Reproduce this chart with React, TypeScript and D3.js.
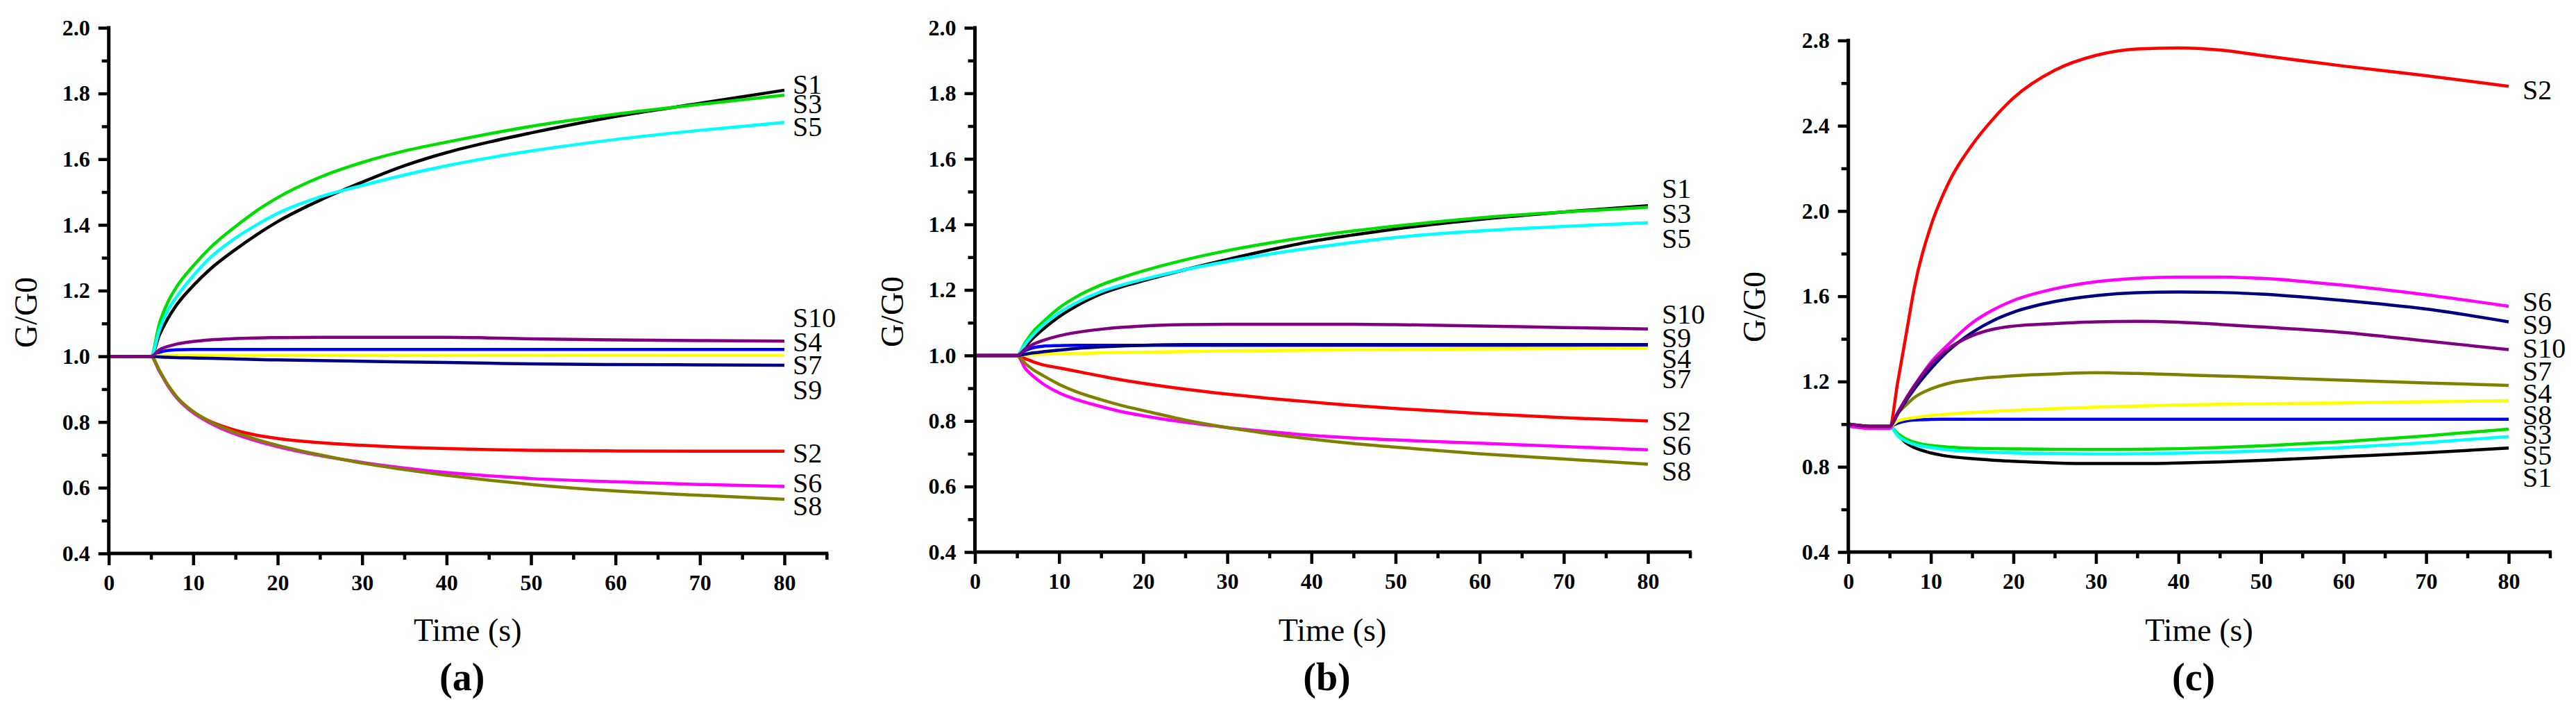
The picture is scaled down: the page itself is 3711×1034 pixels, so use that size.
import * as d3 from "d3";
import { useEffect, useRef } from "react";

const WIDTH = 3711;
const HEIGHT = 1034;
const FONT = "'Liberation Serif', 'Times New Roman', serif";

// sample times (s), shared by every series
const TIME = [0, 2.5, 5, 6, 7, 8, 10, 12, 15, 17.5, 20, 25, 30, 35, 40, 45, 50, 60, 70, 80];

const SERIES_COLORS = [
  "#000000", "#ff0000", "#00dd00", "#0000ff", "#00ffff",
  "#ff00ff", "#ffff00", "#808000", "#000080", "#800080",
];

// panel (a)
const A_S1 = [1.0, 1.0, 1.0, 1.065, 1.115, 1.155, 1.215, 1.265, 1.325, 1.37, 1.41, 1.475, 1.53, 1.58, 1.62, 1.652, 1.68, 1.73, 1.77, 1.81];
const A_S2 = [1.0, 1.0, 1.0, 0.955, 0.912, 0.877, 0.83, 0.802, 0.775, 0.76, 0.75, 0.737, 0.729, 0.723, 0.719, 0.716, 0.714, 0.712, 0.711, 0.711];
const A_S3 = [1.0, 1.0, 1.0, 1.1, 1.165, 1.21, 1.275, 1.33, 1.395, 1.443, 1.483, 1.545, 1.59, 1.625, 1.652, 1.677, 1.7, 1.737, 1.767, 1.795];
const A_S4 = [1.0, 1.0, 1.0, 1.012, 1.018, 1.02, 1.021, 1.021, 1.021, 1.021, 1.021, 1.021, 1.021, 1.021, 1.021, 1.021, 1.021, 1.021, 1.021, 1.021];
const A_S5 = [1.0, 1.0, 1.0, 1.08, 1.14, 1.18, 1.245, 1.3, 1.36, 1.4, 1.435, 1.485, 1.52, 1.552, 1.58, 1.604, 1.625, 1.66, 1.688, 1.712];
const A_S6 = [1.0, 1.0, 1.0, 0.955, 0.91, 0.875, 0.828, 0.797, 0.763, 0.742, 0.725, 0.698, 0.677, 0.66, 0.646, 0.636, 0.628, 0.618, 0.61, 0.604];
const A_S7 = [1.0, 1.0, 1.0, 1.002, 1.003, 1.003, 1.003, 1.003, 1.003, 1.003, 1.003, 1.003, 1.003, 1.003, 1.003, 1.003, 1.003, 1.003, 1.003, 1.003];
const A_S8 = [1.0, 1.0, 1.0, 0.957, 0.913, 0.878, 0.832, 0.801, 0.768, 0.747, 0.729, 0.7, 0.675, 0.655, 0.638, 0.623, 0.61, 0.59, 0.577, 0.565];
const A_S9 = [1.0, 1.0, 1.0, 0.998, 0.997, 0.996, 0.995, 0.994, 0.992, 0.99, 0.989, 0.987, 0.985, 0.983, 0.981, 0.979, 0.977, 0.975, 0.974, 0.973];
const A_S10 = [1.0, 1.0, 1.0, 1.02, 1.03, 1.037, 1.045, 1.05, 1.054, 1.056, 1.057, 1.058, 1.058, 1.058, 1.058, 1.056, 1.053, 1.05, 1.048, 1.046];
const A_LABELS = ["S1", "S3", "S5", "S10", "S4", "S7", "S9", "S2", "S6", "S8"];
const A_LABEL_Y = [1.829, 1.768, 1.7, 1.117, 1.043, 0.973, 0.899, 0.705, 0.614, 0.546];

// panel (b)
const B_S1 = [1.0, 1.0, 1.0, 1.028, 1.055, 1.078, 1.118, 1.15, 1.188, 1.21, 1.228, 1.262, 1.293, 1.322, 1.348, 1.368, 1.386, 1.415, 1.438, 1.457];
const B_S2 = [1.0, 1.0, 1.0, 0.99, 0.98, 0.972, 0.962, 0.952, 0.937, 0.925, 0.915, 0.897, 0.882, 0.869, 0.858, 0.847, 0.838, 0.823, 0.81, 0.8];
const B_S3 = [1.0, 1.0, 1.0, 1.04, 1.075, 1.1, 1.145, 1.178, 1.215, 1.238, 1.258, 1.292, 1.32, 1.343, 1.363, 1.38, 1.395, 1.42, 1.438, 1.452];
const B_S4 = [1.0, 1.0, 1.0, 1.015, 1.024, 1.028, 1.03, 1.031, 1.031, 1.031, 1.031, 1.031, 1.031, 1.031, 1.031, 1.031, 1.031, 1.031, 1.031, 1.031];
const B_S5 = [1.0, 1.0, 1.0, 1.035, 1.065, 1.09, 1.13, 1.16, 1.195, 1.215, 1.232, 1.262, 1.287, 1.309, 1.328, 1.345, 1.36, 1.38, 1.394, 1.405];
const B_S6 = [1.0, 1.0, 1.0, 0.96, 0.935, 0.915, 0.886, 0.866, 0.844, 0.828, 0.816, 0.796, 0.78, 0.767, 0.756, 0.748, 0.742, 0.732, 0.722, 0.712];
const B_S7 = [1.0, 1.0, 1.0, 1.002, 1.003, 1.004, 1.005, 1.006, 1.008, 1.009, 1.01, 1.012, 1.014, 1.015, 1.016, 1.017, 1.018, 1.02, 1.021, 1.022];
const B_S8 = [1.0, 1.0, 1.0, 0.975, 0.955, 0.94, 0.912, 0.89, 0.865, 0.847, 0.832, 0.803, 0.78, 0.761, 0.745, 0.731, 0.72, 0.7, 0.684, 0.668];
const B_S9 = [1.0, 1.0, 1.0, 1.004, 1.008, 1.011, 1.016, 1.021, 1.026, 1.029, 1.031, 1.033, 1.033, 1.033, 1.033, 1.033, 1.033, 1.033, 1.033, 1.033];
const B_S10 = [1.0, 1.0, 1.0, 1.02, 1.035, 1.045, 1.06, 1.07, 1.08, 1.086, 1.09, 1.094, 1.095, 1.095, 1.095, 1.095, 1.094, 1.09, 1.085, 1.081];
const B_LABELS = ["S1", "S3", "S5", "S10", "S9", "S4", "S7", "S2", "S6", "S8"];
const B_LABEL_Y = [1.51, 1.433, 1.356, 1.125, 1.055, 0.99, 0.93, 0.8, 0.725, 0.648];

// panel (c)
const C_S1 = [1.0, 0.99, 0.99, 0.95, 0.912, 0.89, 0.865, 0.85, 0.838, 0.831, 0.826, 0.818, 0.815, 0.815, 0.818, 0.823, 0.83, 0.848, 0.866, 0.888];
const C_S2 = [1.0, 0.99, 0.99, 1.2, 1.42, 1.64, 1.93, 2.12, 2.31, 2.43, 2.53, 2.66, 2.73, 2.76, 2.765, 2.755, 2.73, 2.68, 2.635, 2.585];
const C_S3 = [1.0, 0.99, 0.99, 0.955, 0.93, 0.915, 0.9, 0.893, 0.887, 0.885, 0.884, 0.882, 0.881, 0.882, 0.885, 0.89, 0.898, 0.918, 0.945, 0.977];
const C_S4 = [1.0, 0.99, 0.99, 1.005, 1.015, 1.02, 1.022, 1.023, 1.023, 1.023, 1.023, 1.023, 1.023, 1.023, 1.023, 1.023, 1.023, 1.023, 1.023, 1.023];
const C_S5 = [1.0, 0.99, 0.99, 0.945, 0.92, 0.905, 0.89, 0.88, 0.872, 0.868, 0.865, 0.862, 0.86, 0.861, 0.864, 0.868, 0.874, 0.89, 0.913, 0.942];
const C_S6 = [0.99, 0.98, 0.98, 1.05, 1.12, 1.18, 1.29, 1.37, 1.475, 1.535, 1.58, 1.635, 1.668, 1.684, 1.69, 1.69, 1.684, 1.652, 1.607, 1.553];
const C_S7 = [1.0, 0.99, 0.99, 1.015, 1.025, 1.03, 1.04, 1.047, 1.055, 1.06, 1.065, 1.073, 1.08, 1.085, 1.09, 1.093, 1.095, 1.1, 1.105, 1.11];
const C_S8 = [1.0, 0.99, 0.99, 1.05, 1.09, 1.125, 1.165, 1.19, 1.21, 1.22, 1.227, 1.236, 1.241, 1.238, 1.232, 1.226, 1.22, 1.206, 1.193, 1.182];
const C_S9 = [1.0, 0.99, 0.99, 1.05, 1.11, 1.165, 1.26, 1.34, 1.43, 1.485, 1.525, 1.575, 1.603, 1.617, 1.62, 1.618, 1.61, 1.58, 1.54, 1.48];
const C_S10 = [1.0, 0.99, 0.99, 1.055, 1.12, 1.18, 1.28, 1.35, 1.415, 1.445, 1.46, 1.472, 1.48, 1.482, 1.478, 1.468, 1.456, 1.43, 1.39, 1.35];
const C_LABELS = ["S2", "S6", "S9", "S10", "S7", "S4", "S8", "S3", "S5", "S1"];
const C_LABEL_Y = [2.57, 1.574, 1.467, 1.356, 1.249, 1.146, 1.045, 0.953, 0.856, 0.749];

const X_MAJOR = [0, 10, 20, 30, 40, 50, 60, 70, 80];
const X_MINOR = [5, 15, 25, 35, 45, 55, 65, 75, 85];
const Y_MAJOR_AB = [0.4, 0.6, 0.8, 1.0, 1.2, 1.4, 1.6, 1.8, 2.0];
const Y_MINOR_AB = [0.5, 0.7, 0.9, 1.1, 1.3, 1.5, 1.7, 1.9];
const Y_MAJOR_C = [0.4, 0.8, 1.2, 1.6, 2.0, 2.4, 2.8];
const Y_MINOR_C = [0.6, 1.0, 1.4, 1.8, 2.2, 2.6];

interface PanelConfig {
  tag: string;
  series: number[][];
  labels: string[];
  labelY: number[];
  yDomain: [number, number];
  yMajor: number[];
  yMinor: number[];
  left: number;
  x80: number;
  top: number;
  bottom: number;
  labelGap: number;
  titleOffset: number;
  titleY: number;
}

const PANELS: PanelConfig[] = [
  {
    tag: "(a)",
    series: [A_S1, A_S2, A_S3, A_S4, A_S5, A_S6, A_S7, A_S8, A_S9, A_S10],
    labels: A_LABELS,
    labelY: A_LABEL_Y,
    yDomain: [0.4, 2.0],
    yMajor: Y_MAJOR_AB,
    yMinor: Y_MINOR_AB,
    left: 156.7,
    x80: 1130,
    top: 40,
    bottom: 797,
    labelGap: 12,
    titleOffset: 104,
    titleY: 450,
  },
  {
    tag: "(b)",
    series: [B_S1, B_S2, B_S3, B_S4, B_S5, B_S6, B_S7, B_S8, B_S9, B_S10],
    labels: B_LABELS,
    labelY: B_LABEL_Y,
    yDomain: [0.4, 2.0],
    yMajor: Y_MAJOR_AB,
    yMinor: Y_MINOR_AB,
    left: 1404.5,
    x80: 2374,
    top: 40,
    bottom: 795,
    labelGap: 20,
    titleOffset: 104,
    titleY: 449,
  },
  {
    tag: "(c)",
    series: [C_S1, C_S2, C_S3, C_S4, C_S5, C_S6, C_S7, C_S8, C_S9, C_S10],
    labels: C_LABELS,
    labelY: C_LABEL_Y,
    yDomain: [0.4, 2.8],
    yMajor: Y_MAJOR_C,
    yMinor: Y_MINOR_C,
    left: 2662.7,
    x80: 3614,
    top: 58.3,
    bottom: 795,
    labelGap: 20,
    titleOffset: 120,
    titleY: 442,
  },
];

export default function App() {
  const svgRef = useRef<SVGSVGElement>(null);

  useEffect(() => {
    if (!svgRef.current) return;
    const svg = d3.select(svgRef.current);
    svg.selectAll("*").remove();

    svg.append("rect").attr("width", WIDTH).attr("height", HEIGHT).attr("fill", "#fff");

    for (const p of PANELS) {
      const perUnit = (p.x80 - p.left) / 80;
      const xScale = d3.scaleLinear().domain([0, 85]).range([p.left, p.left + perUnit * 85]);
      const yScale = d3.scaleLinear().domain(p.yDomain).range([p.bottom, p.top]);

      const g = svg.append("g");

      // Lines, drawn S1 .. S10 so later series sit on top
      const line = d3
        .line<number>()
        .x((_, i) => xScale(TIME[i]))
        .y((d) => yScale(d))
        .curve(d3.curveMonotoneX);

      p.series.forEach((values, i) => {
        g.append("path")
          .datum(values)
          .attr("d", line)
          .style("fill", "none")
          .style("stroke", SERIES_COLORS[i])
          .style("stroke-width", 4.5)
          .style("stroke-linejoin", "round");
      });

      // Series labels at the right end
      p.labels.forEach((name, i) => {
        g.append("text")
          .attr("x", xScale(80) + p.labelGap)
          .attr("y", yScale(p.labelY[i]))
          .attr("dy", "0.34em")
          .style("font-family", FONT)
          .style("font-size", "40px")
          .style("fill", "#000")
          .text(name);
      });

      // Minor ticks
      g.append("g")
        .attr("transform", `translate(${p.left},0)`)
        .call(d3.axisLeft(yScale).tickValues(p.yMinor).tickSize(10).tickSizeOuter(0).tickFormat(() => ""))
        .call((a) => a.select(".domain").remove());
      g.append("g")
        .attr("transform", `translate(0,${p.bottom})`)
        .call(d3.axisBottom(xScale).tickValues(X_MINOR).tickSize(9).tickSizeOuter(0).tickFormat(() => ""))
        .call((a) => a.select(".domain").remove());

      // Major ticks + labels
      const yAxis = g
        .append("g")
        .attr("transform", `translate(${p.left},0)`)
        .call(
          d3
            .axisLeft(yScale)
            .tickValues(p.yMajor)
            .tickSize(15)
            .tickSizeOuter(0)
            .tickPadding(12)
            .tickFormat(d3.format(".1f")),
        );
      yAxis.select(".domain").remove();

      const xAxis = g
        .append("g")
        .attr("transform", `translate(0,${p.bottom})`)
        .call(
          d3
            .axisBottom(xScale)
            .tickValues(X_MAJOR)
            .tickSize(17)
            .tickSizeOuter(0)
            .tickPadding(13)
            .tickFormat(d3.format("d")),
        );
      xAxis.select(".domain").remove();

      g.selectAll(".tick line").style("stroke", "#000").style("stroke-width", 4.5);
      g.selectAll(".tick text")
        .style("font-family", FONT)
        .style("font-size", "32px")
        .style("font-weight", "bold")
        .style("fill", "#000");

      // Axis lines (L shape)
      g.append("path")
        .attr("d", `M${p.left},${yScale(p.yDomain[1])}V${p.bottom}H${xScale(85)}`)
        .style("fill", "none")
        .style("stroke", "#000")
        .style("stroke-width", 5)
        .style("stroke-linecap", "square");

      // Axis titles
      const cx = (xScale(0) + xScale(85)) / 2;
      g.append("text")
        .attr("x", cx)
        .attr("y", 923)
        .attr("text-anchor", "middle")
        .style("font-family", FONT)
        .style("font-size", "46px")
        .style("fill", "#000")
        .text("Time (s)");

      g.append("text")
        .attr("transform", `translate(${p.left - p.titleOffset},${p.titleY}) rotate(-90)`)
        .attr("text-anchor", "middle")
        .style("font-family", FONT)
        .style("font-size", "46px")
        .style("fill", "#000")
        .text("G/G0");

      g.append("text")
        .attr("x", cx - 8)
        .attr("y", 994)
        .attr("text-anchor", "middle")
        .style("font-family", FONT)
        .style("font-size", "56px")
        .style("font-weight", "bold")
        .style("fill", "#000")
        .text(p.tag);
    }
  }, []);

  return (
    <svg
      ref={svgRef}
      width={WIDTH}
      height={HEIGHT}
      style={{ position: "absolute", left: 0, top: 0, display: "block" }}
    />
  );
}
